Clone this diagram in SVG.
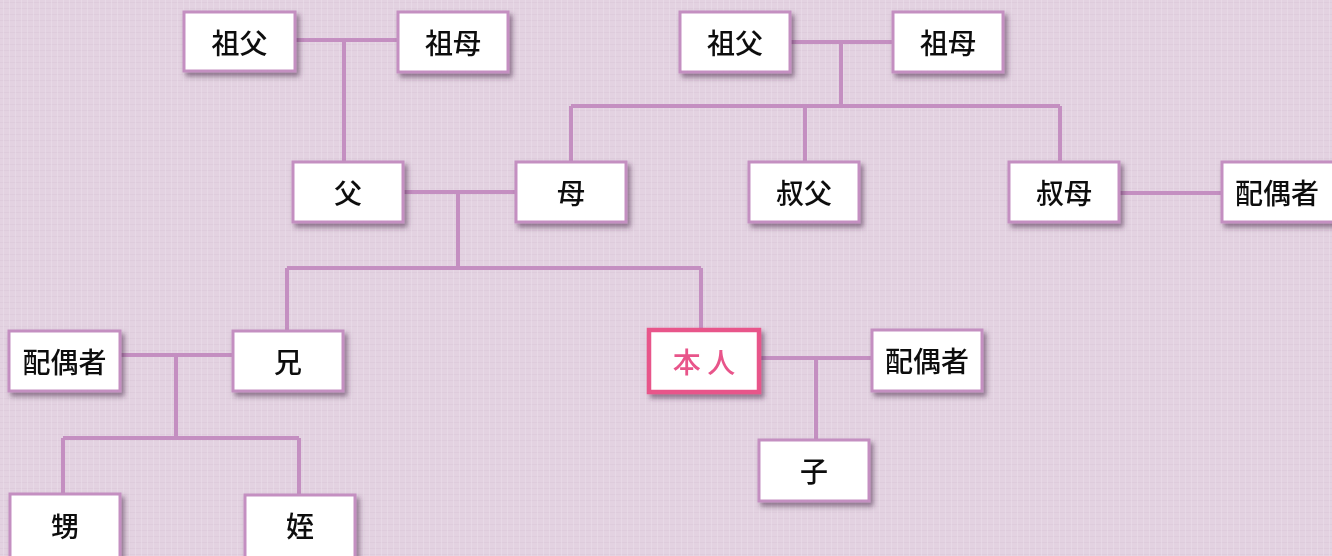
<svg xmlns="http://www.w3.org/2000/svg" width="1332" height="556" viewBox="0 0 1332 556">
<defs>
<filter id="sh" x="-20%" y="-20%" width="150%" height="160%">
<feDropShadow dx="3" dy="4" stdDeviation="2.5" flood-color="#4a2a48" flood-opacity="0.55"/>
</filter>
<pattern id="tex" width="6" height="6" patternUnits="userSpaceOnUse">
<rect width="6" height="6" fill="#e3d2e1"/>
<rect x="0" y="2" width="6" height="1" fill="#d9c5d7" opacity="0.5"/>
<rect x="3" y="0" width="1" height="6" fill="#ecdfeb" opacity="0.5"/>
</pattern>
<style>
.box{fill:#ffffff;stroke:#c48fc1;stroke-width:3}
.me{fill:#ffffff;stroke:#e8548a;stroke-width:4.5}
.t{font-family:"Noto Sans CJK JP","Noto Sans",sans-serif;font-size:28px;font-weight:500;fill:#111111;text-anchor:middle;dominant-baseline:central}
.tm{fill:#e8548a}
.ln{fill:none;stroke:#c48fc1;stroke-width:4}
</style>
</defs>
<rect width="1332" height="556" fill="url(#tex)"/>
<g id="connectors">
<path class="ln" d="M295 40H398M344 40V162"/>
<path class="ln" d="M790 42H893M841 42V106M571 106H1060M571 106V162M805 106V162M1060 106V162"/>
<path class="ln" d="M403 192H516M458 192V268M287 268H701M287 268V331M701 268V329"/>
<path class="ln" d="M1119 193H1222"/>
<path class="ln" d="M120 355H233M176 355V438M63 438H299M63 438V494M299 438V495"/>
<path class="ln" d="M760 358H872M816 358V440"/>
</g>
<g id="n-sofu1" filter="url(#sh)"><rect class="box" x="184" y="12" width="111" height="59"/><text class="t" x="239.5" y="42">祖父</text></g>
<g id="n-sobo1" filter="url(#sh)"><rect class="box" x="398" y="12" width="110" height="60"/><text class="t" x="453" y="42">祖母</text></g>
<g id="n-sofu2" filter="url(#sh)"><rect class="box" x="680" y="12" width="110" height="60"/><text class="t" x="735" y="42">祖父</text></g>
<g id="n-sobo2" filter="url(#sh)"><rect class="box" x="893" y="12" width="110" height="60"/><text class="t" x="948" y="42">祖母</text></g>
<g id="n-chichi" filter="url(#sh)"><rect class="box" x="293" y="162" width="110" height="60"/><text class="t" x="348" y="192">父</text></g>
<g id="n-haha" filter="url(#sh)"><rect class="box" x="516" y="162" width="110" height="60"/><text class="t" x="571" y="192">母</text></g>
<g id="n-oji" filter="url(#sh)"><rect class="box" x="749" y="162" width="110" height="60"/><text class="t" x="804" y="192">叔父</text></g>
<g id="n-oba" filter="url(#sh)"><rect class="box" x="1009" y="162" width="110" height="60"/><text class="t" x="1064" y="192">叔母</text></g>
<g id="n-oba-spouse" filter="url(#sh)"><rect class="box" x="1222" y="162" width="112" height="60"/><text class="t" x="1277" y="192">配偶者</text></g>
<g id="n-ani" filter="url(#sh)"><rect class="box" x="233" y="331" width="110" height="60"/><text class="t" x="288" y="361">兄</text></g>
<g id="n-ani-spouse" filter="url(#sh)"><rect class="box" x="9" y="331" width="111" height="60"/><text class="t" x="64.5" y="361">配偶者</text></g>
<g id="n-honnin" filter="url(#sh)"><rect class="me" x="649" y="330" width="110" height="62"/><text class="t tm" x="704" y="361">本 人</text></g>
<g id="n-spouse" filter="url(#sh)"><rect class="box" x="872" y="330" width="110" height="61"/><text class="t" x="927" y="360">配偶者</text></g>
<g id="n-ko" filter="url(#sh)"><rect class="box" x="759" y="440" width="110" height="61"/><text class="t" x="814" y="470">子</text></g>
<g id="n-oi" filter="url(#sh)"><rect class="box" x="10" y="494" width="110" height="66"/><text class="t" x="65" y="525">甥</text></g>
<g id="n-mei" filter="url(#sh)"><rect class="box" x="245" y="495" width="110" height="65"/><text class="t" x="300" y="525">姪</text></g>
</svg>
